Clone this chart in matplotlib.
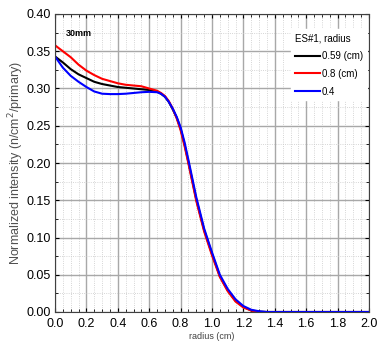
import matplotlib
matplotlib.use("Agg")
import matplotlib.pyplot as plt
from matplotlib.ticker import MultipleLocator

plt.rcParams['font.family'] = ['Liberation Sans', 'DejaVu Sans']

radius = [0.0, 0.05, 0.1, 0.15, 0.2, 0.25, 0.3, 0.35, 0.4, 0.45, 0.5, 0.55, 0.6, 0.65,
          0.675, 0.7, 0.725, 0.75, 0.775, 0.8, 0.825, 0.85, 0.9, 0.95, 1.0, 1.05, 1.1, 1.15,
          1.2, 1.25, 1.3, 1.35, 1.4, 2.0]

black_059 = [0.343, 0.335, 0.326, 0.319, 0.314, 0.309, 0.306, 0.304, 0.302, 0.301, 0.300, 0.299,
             0.298, 0.296, 0.293, 0.289, 0.282, 0.272, 0.261, 0.246, 0.225, 0.201, 0.151, 0.110,
             0.078, 0.048, 0.029, 0.015, 0.007, 0.002, 0.0005, 0.0, 0.0, 0.0]
red_08 = [0.358, 0.350, 0.342, 0.332, 0.324, 0.318, 0.313, 0.310, 0.307, 0.305, 0.304, 0.303,
          0.300, 0.297, 0.294, 0.290, 0.283, 0.273, 0.260, 0.244, 0.223, 0.199, 0.149, 0.108,
          0.076, 0.047, 0.028, 0.014, 0.006, 0.002, 0.0, 0.0, 0.0, 0.0]
blue_04 = [0.343, 0.328, 0.317, 0.309, 0.302, 0.296, 0.293, 0.2925, 0.2925, 0.293, 0.294, 0.295,
           0.2955, 0.295, 0.293, 0.289, 0.282, 0.273, 0.262, 0.248, 0.228, 0.204, 0.154, 0.112,
           0.080, 0.050, 0.031, 0.017, 0.008, 0.003, 0.001, 0.0, 0.0, 0.0]

labels = ['0.59 (cm)', '0.8 (cm)', '0.4']
colors = ['black', 'red', 'blue']

fig = plt.figure(figsize=(3.84, 3.48), dpi=100)
ax = fig.add_axes([55/384, 36/348, 314/384, 298/348])

for ys, lab, c in zip([black_059, red_08, blue_04], labels, colors):
    ax.plot(radius, ys, color=c, lw=1.5, label=lab)

ax.set_xlim(0, 2.0)
ax.set_ylim(0, 0.40)
ax.xaxis.set_major_locator(MultipleLocator(0.2))
ax.xaxis.set_minor_locator(MultipleLocator(0.05))
ax.yaxis.set_major_locator(MultipleLocator(0.05))
ax.yaxis.set_minor_locator(MultipleLocator(0.025))
ax.set_xticklabels([f"{v:.1f}" for v in ax.get_xticks()])
ax.set_yticklabels([f"{v:.2f}" for v in ax.get_yticks()])

ax.grid(which='major', color='#a8a8a8', lw=1.0, ls='-')
ax.grid(which='minor', color='#c8c8c8', lw=0.6, ls=':')
ax.set_axisbelow(True)

ax.tick_params(which='both', direction='in', top=True, right=True, labelsize=9)
ax.tick_params(axis='x', pad=4)
ax.tick_params(axis='y', pad=3)
ax.tick_params(which='major', length=3)
ax.tick_params(which='minor', length=2)
for s in ax.spines.values():
    s.set_color('#404040')
    s.set_linewidth(0.8)

ax.set_xlabel('radius (cm)', fontsize=6.5, color='#404040', labelpad=2)
ax.set_ylabel('Normalized intensity (n/cm$^2$/primary)', fontsize=9, color='#505050', labelpad=0)

ax.text(0.07, 0.374, '30mm', fontsize=6.5, fontweight='bold', ha='left', va='center')

leg = ax.legend(title='ES#1, radius', loc='upper right', bbox_to_anchor=(1.0, 0.955),
                fontsize=7, title_fontsize=7, frameon=True, edgecolor='white',
                fancybox=False, framealpha=1.0, handlelength=2.6, handletextpad=0.2,
                labelspacing=0.8, borderaxespad=0.2, borderpad=0.4)
leg._legend_box.align = 'left'

fig.savefig('out.png', dpi=100)
